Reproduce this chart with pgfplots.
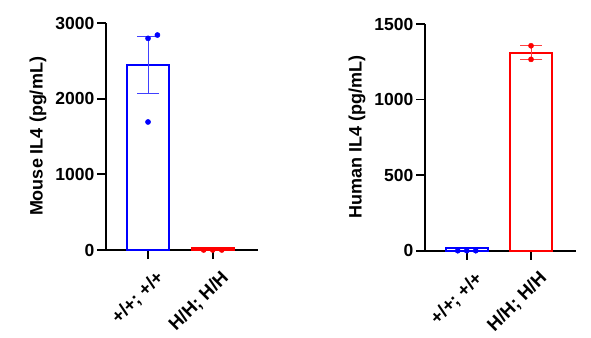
\documentclass[border=0pt]{standalone}
\usepackage{pgfplots}
\pgfplotsset{compat=1.18}
\usepackage{fontspec}
\setmainfont{Liberation Sans}
\definecolor{pblue}{RGB}{0,0,255}
\definecolor{pred}{RGB}{255,0,0}
\pgfplotsset{
  prism/.style={
    scale only axis,
    width=152pt, height=227pt,
    axis lines=left,
    axis line style={line width=1.8pt, -},
    xmin=-0.65, xmax=1.7, ymin=0,
    xtick={0,1}, xticklabels={{+/+; +/+},{H/H; H/H}},
    tick align=outside,
    major tick length=9pt,
    tick style={line width=1.8pt, black},
    /pgf/number format/assume math mode=true,
    /pgf/number format/1000 sep={},
    yticklabel style={font=\fontsize{17.5}{20}\selectfont\bfseries, inner sep=2.5pt},
    xticklabel style={font=\fontsize{18.5}{20}\selectfont\bfseries, rotate=45, anchor=north east, inner sep=0pt, yshift=-12pt, xshift=-2pt},
    ylabel style={font=\fontsize{18}{20}\selectfont\bfseries, yshift=3pt},
    clip=false,
  },
  barp/.style={ybar, bar width=42pt, bar shift=0pt, fill=white, draw=#1, line width=2pt},
  errp/.style={draw=none, mark=none, forget plot,
    error bars/.cd, y dir=both, y explicit,
    error bar style={line width=1pt, color=#1!75!white},
    error mark options={rotate=90, mark size=11pt, line width=1pt, color=#1!75!white}},
  dotp/.style={only marks, mark=*, mark size=2.6pt, color=#1},
}
\begin{document}
\begin{tikzpicture}
\useasboundingbox (0,0) rectangle (591pt,337pt);
% Left: Mouse IL4
\begin{axis}[prism, at={(106pt,87pt)}, anchor=south west,
  ymax=3000, ytick={0,1000,2000,3000},
  ylabel={Mouse IL4 (pg/mL)}]
\addplot[barp=pblue] coordinates {(0,2440)};
\addplot[barp=pred] coordinates {(1,20)};
\addplot[errp=pblue] coordinates {(0,2440) +- (0,377)};
\addplot[dotp=pblue] coordinates {(0,2797) (0.145,2841) (0,1692)};
\addplot[dotp=pred] coordinates {(0.86,0) (1,0) (1.14,0)};
\end{axis}
% Right: Human IL4
\begin{axis}[prism, at={(425pt,86.3pt)}, anchor=south west,
  width=151pt, height=226.7pt,
  ymax=1500, ytick={0,500,1000,1500},
  ylabel={Human IL4 (pg/mL)}]
\addplot[barp=pblue] coordinates {(0,15)};
\addplot[barp=pred] coordinates {(1,1311)};
\addplot[errp=pred] coordinates {(1,1311) +- (0,45)};
\addplot[dotp=pblue] coordinates {(-0.14,0) (0,0) (0.14,0)};
\addplot[dotp=pred] coordinates {(1,1356) (1,1266)};
\end{axis}
\end{tikzpicture}
\end{document}
